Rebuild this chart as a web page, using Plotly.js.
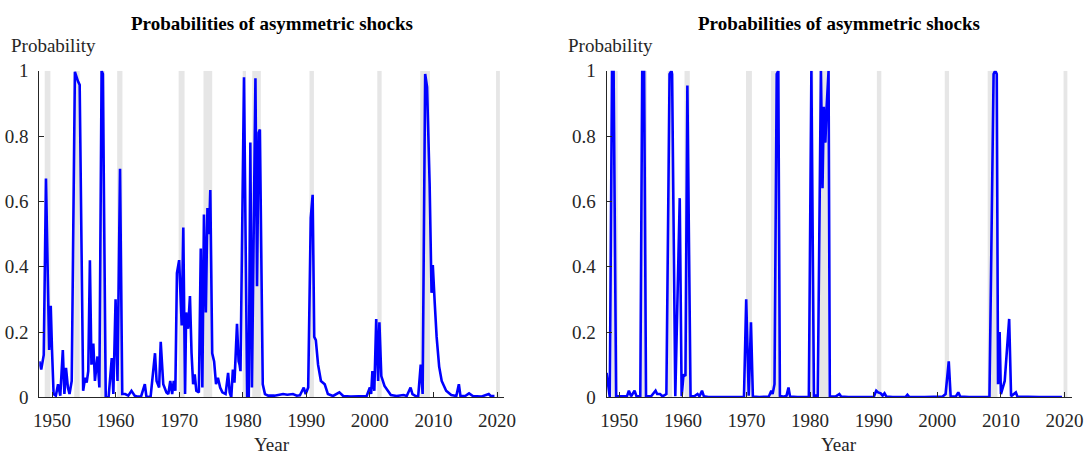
<!DOCTYPE html>
<html>
<head>
<meta charset="utf-8">
<script src="https://cdn.plot.ly/plotly-3.0.1.min.js"></script>
<style>html,body{margin:0;padding:0;background:#fff;}#chart{width:1088px;height:455px;}</style>
</head>
<body>
<div id="chart"></div>
<script>
// ---- Data ----
var leftYears = [1948.0,1948.3,1948.7,1949.05,1949.55,1949.8,1950.0,1950.25,1950.6,1950.95,1951.3,1951.7,1951.95,1952.2,1952.5,1952.75,1953.1,1953.6,1954.1,1954.35,1954.9,1955.2,1955.45,1955.7,1955.96,1956.2,1956.5,1956.75,1957.15,1957.45,1957.8,1958.0,1958.45,1958.9,1959.4,1959.65,1960.0,1960.3,1960.7,1961.05,1961.5,1962.0,1962.5,1963.0,1963.5,1964.0,1964.6,1964.85,1965.5,1966.2,1966.45,1966.85,1967.1,1967.5,1968.0,1968.3,1968.6,1968.9,1969.15,1969.4,1969.65,1970.0,1970.4,1970.65,1970.93,1971.1,1971.4,1971.7,1971.95,1972.2,1972.45,1972.7,1973.1,1973.4,1973.65,1973.9,1974.2,1974.45,1974.7,1974.9,1975.2,1975.5,1975.8,1976.1,1976.45,1976.8,1977.3,1977.7,1977.95,1978.2,1978.45,1978.7,1979.1,1979.35,1979.5,1979.65,1980.2,1980.7,1980.95,1981.2,1981.45,1982.0,1982.25,1982.5,1982.7,1983.15,1983.5,1984.0,1985.0,1986.35,1987.0,1987.9,1988.5,1989.0,1989.6,1989.9,1990.3,1990.7,1991.0,1991.25,1991.5,1991.85,1992.3,1992.9,1993.4,1994.2,1995.2,1995.8,1997.0,1998.5,1999.5,2000.0,2000.2,2000.4,2000.7,2001.0,2001.3,2001.5,2001.8,2002.3,2002.8,2003.3,2004.2,2005.3,2005.8,2006.4,2006.7,2007.2,2007.6,2008.0,2008.3,2008.7,2009.0,2009.4,2009.7,2009.9,2010.2,2010.5,2010.9,2011.3,2012.0,2012.8,2013.6,2014.0,2014.25,2015.0,2015.6,2016.2,2017.5,2018.7,2019.0,2019.6];
var leftProb = [0.11,0.085,0.13,0.67,0.145,0.28,0.145,0.01,0.005,0.04,0.005,0.145,0.01,0.09,0.03,0.01,0.05,0.997,0.967,0.957,0.02,0.06,0.045,0.08,0.42,0.10,0.165,0.05,0.125,0.03,1.0,0.99,0.0,0.0,0.12,0.01,0.30,0.05,0.70,0.01,0.01,0.005,0.02,0.005,0.002,0.002,0.04,0.002,0.0,0.135,0.05,0.03,0.17,0.04,0.015,0.01,0.05,0.01,0.05,0.02,0.38,0.42,0.22,0.52,0.01,0.26,0.21,0.31,0.135,0.04,0.07,0.02,0.015,0.456,0.03,0.56,0.26,0.58,0.50,0.635,0.135,0.11,0.04,0.06,0.03,0.015,0.01,0.075,0.015,0.0,0.085,0.045,0.225,0.11,0.10,0.08,0.98,0.0,0.0,0.78,0.03,0.977,0.34,0.81,0.82,0.04,0.01,0.005,0.005,0.01,0.008,0.01,0.005,0.006,0.03,0.01,0.03,0.55,0.62,0.185,0.175,0.10,0.05,0.04,0.01,0.004,0.015,0.004,0.002,0.002,0.004,0.03,0.01,0.08,0.02,0.24,0.05,0.23,0.065,0.035,0.02,0.007,0.004,0.007,0.004,0.03,0.01,0.004,0.002,0.10,0.01,0.99,0.95,0.655,0.32,0.405,0.29,0.185,0.094,0.05,0.02,0.007,0.004,0.04,0.004,0.004,0.012,0.004,0.002,0.01,0.004,0.004];

var rightYears = [1948.0,1948.5,1948.85,1949.1,1949.5,1950.5,1951.2,1951.5,1951.85,1952.4,1952.7,1953.3,1953.6,1953.9,1954.2,1955.0,1955.7,1955.95,1956.4,1956.8,1957.4,1957.9,1958.2,1958.3,1958.8,1959.5,1959.8,1960.1,1960.4,1960.7,1961.2,1961.8,1962.3,1962.6,1963.0,1963.3,1964.0,1966.0,1968.0,1969.6,1969.95,1970.35,1970.7,1971.0,1972.0,1973.5,1973.9,1974.1,1974.4,1974.75,1975.0,1975.25,1975.8,1976.3,1976.6,1976.85,1978.0,1979.8,1980.2,1980.6,1981.0,1981.2,1981.7,1981.95,1982.15,1982.4,1982.6,1982.9,1983.1,1984.0,1984.6,1984.9,1986.0,1988.0,1990.0,1990.4,1990.7,1991.1,1991.4,1991.7,1992.0,1993.0,1995.0,1995.3,1995.6,1998.0,2000.8,2001.3,2001.8,2002.1,2002.9,2003.3,2003.6,2005.0,2008.2,2008.85,2009.1,2009.35,2009.55,2009.8,2010.0,2010.6,2011.3,2011.6,2012.35,2012.6,2014.0,2016.0,2018.0,2019.6];
var rightProb = [0.075,0.0,1.0,1.0,0.003,0.002,0.003,0.02,0.003,0.02,0.003,0.003,1.0,1.0,0.003,0.003,0.02,0.01,0.01,0.003,0.01,0.99,1.0,0.99,0.003,0.61,0.003,0.07,0.065,0.955,0.003,0.003,0.01,0.003,0.02,0.003,0.001,0.001,0.001,0.001,0.30,0.005,0.23,0.002,0.001,0.002,0.02,0.01,0.04,0.99,1.0,0.005,0.002,0.005,0.03,0.002,0.001,0.001,1.0,0.005,0.005,0.002,1.0,0.64,0.89,0.78,0.89,1.0,0.002,0.002,0.01,0.002,0.001,0.001,0.001,0.02,0.015,0.012,0.005,0.012,0.002,0.001,0.001,0.008,0.001,0.001,0.002,0.01,0.11,0.002,0.002,0.015,0.002,0.001,0.001,0.99,1.0,0.99,0.04,0.20,0.01,0.05,0.24,0.003,0.015,0.002,0.001,0.001,0.001,0.001];

var recessionStart = [1948.85,1953.5,1957.6,1960.25,1969.92,1973.83,1980.0,1981.5,1990.5,2001.17,2007.92,2019.85];
var recessionEnd   = [1949.75,1954.35,1958.3,1961.08,1970.85,1975.2,1980.52,1982.85,1991.2,2001.85,2009.45,2020.45];

var titleText = 'Probabilities of asymmetric shocks';
var yLabel = 'Probability';
var xLabel = 'Year';
var xTicks = [1950,1960,1970,1980,1990,2000,2010,2020];
var yTicks = [0,0.2,0.4,0.6,0.8,1];
var yTickText = ['0','0.2','0.4','0.6','0.8','1'];

// ---- Layout geometry ----
var W = 1088, H = 455;
var FONT = 'Liberation Serif, Times New Roman, serif';
var dom1 = [39.3/W, 504.0/W];
var dom2 = [606.6/W, 1071.5/W];
var ydom = [(H-397.3)/H, (H-70.8)/H];

function xaxisDef(dom, anchor){
  return {
    domain: dom, anchor: anchor, range: [1948, 2021.1],
    tickvals: xTicks, ticks: 'inside', ticklen: 5, tickcolor: '#262626', tickwidth: 1,
    showline: true, linecolor: '#262626', linewidth: 1, mirror: false,
    showgrid: false, zeroline: false, fixedrange: true,
    tickfont: {family: FONT, size: 19, color: '#262626'}, ticklabelstandoff: 6
  };
}
function yaxisDef(anchor){
  return {
    domain: ydom, anchor: anchor, range: [0, 1],
    tickvals: yTicks, ticktext: yTickText, ticks: 'inside', ticklen: 5, tickcolor: '#262626', tickwidth: 1,
    showline: true, linecolor: '#262626', linewidth: 1, mirror: false,
    showgrid: false, zeroline: false, fixedrange: true,
    tickfont: {family: FONT, size: 19, color: '#262626'}, ticklabelstandoff: 6
  };
}

var shapes = [];
['x','x2'].forEach(function(xr, k){
  for (var i = 0; i < recessionStart.length; i++){
    shapes.push({type: 'rect', xref: xr, yref: (k===0?'y':'y2'),
      x0: recessionStart[i], x1: recessionEnd[i], y0: 0, y1: 1,
      fillcolor: '#e6e6e6', line: {width: 0}, layer: 'below'});
  }
});

var labelLeft = [9/W, 566/W];
var annotations = [];
[[dom1, 0],[dom2, 1]].forEach(function(d){
  var cx = (d[0][0] + d[0][1]) / 2;
  annotations.push({xref:'paper', yref:'paper', x: cx, y: 1 - 23/H, xanchor:'center', yanchor:'middle',
    text: '<b>' + titleText + '</b>', showarrow:false, font:{family: FONT, size: 19, color:'#000'}});
  annotations.push({xref:'paper', yref:'paper', x: labelLeft[d[1]], y: 1 - 46/H, xanchor:'left', yanchor:'middle',
    text: yLabel, showarrow:false, font:{family: FONT, size: 19, color:'#262626'}});
  annotations.push({xref:'paper', yref:'paper', x: cx, y: 1 - 444/H, xanchor:'center', yanchor:'middle',
    text: xLabel, showarrow:false, font:{family: FONT, size: 19, color:'#262626'}});
});

var traces = [
  {x: leftYears, y: leftProb, xaxis:'x', yaxis:'y', type:'scatter', mode:'lines',
   line:{color:'#0000ff', width:2.6}, cliponaxis:false, hoverinfo:'skip'},
  {x: rightYears, y: rightProb, xaxis:'x2', yaxis:'y2', type:'scatter', mode:'lines',
   line:{color:'#0000ff', width:2.6}, cliponaxis:false, hoverinfo:'skip'}
];

var layout = {
  width: W, height: H, margin: {l:0, r:0, t:0, b:0},
  paper_bgcolor: '#fff', plot_bgcolor: 'rgba(0,0,0,0)', showlegend: false,
  xaxis: xaxisDef(dom1, 'y'), yaxis: yaxisDef('x'),
  xaxis2: xaxisDef(dom2, 'y2'), yaxis2: yaxisDef('x2'),
  shapes: shapes, annotations: annotations
};

Plotly.newPlot('chart', traces, layout, {staticPlot: true, displayModeBar: false});
</script>
</body>
</html>
